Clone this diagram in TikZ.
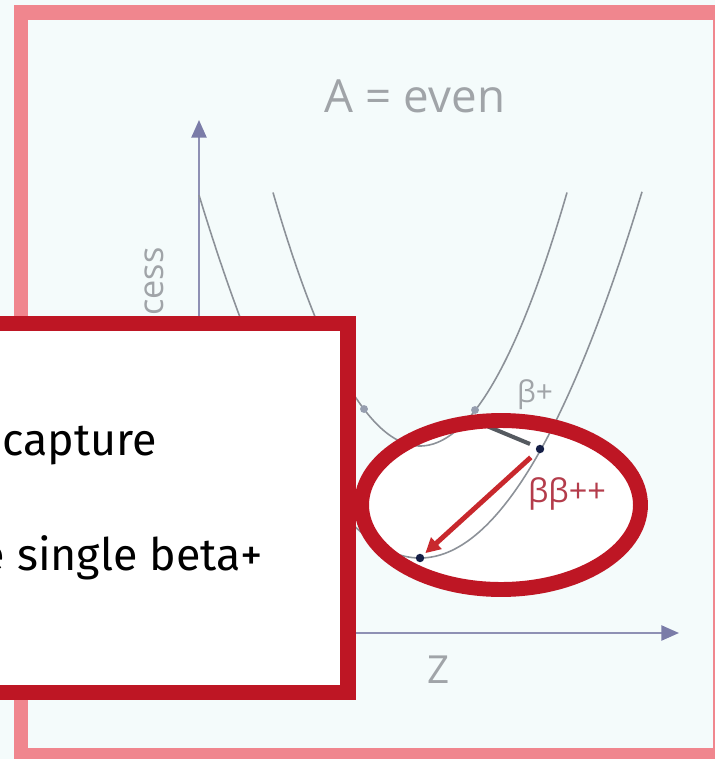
\documentclass[tikz,border=0pt]{standalone}
\usepackage{fontspec}
\newfontfamily\graysf{Open Sans}
\newfontfamily\boxsf{Fira Sans}
\usetikzlibrary{arrows.meta}
\definecolor{bgcol}{RGB}{244,251,251}
\definecolor{framecol}{RGB}{240,134,142}
\definecolor{boxred}{RGB}{190,22,36}
\definecolor{curvecol}{RGB}{140,145,152}
\definecolor{axiscol}{RGB}{142,144,180}
\definecolor{axishead}{RGB}{122,124,168}
\definecolor{labelgray}{RGB}{160,164,168}
\definecolor{dotdark}{RGB}{20,30,70}
\definecolor{dotgray}{RGB}{150,158,175}
\definecolor{arrowred}{RGB}{200,40,45}
\definecolor{bbred}{RGB}{180,60,75}
\definecolor{barcol}{RGB}{85,90,96}
\begin{document}
\begin{tikzpicture}[x=0.02cm,y=-0.02cm,
  axisline/.style={axiscol,line width=1.3pt,-{Triangle[length=10pt,width=8.5pt,color=axishead]}},
  parab/.style={curvecol,line width=0.9pt,smooth,samples=80},
  ddot/.style={circle,fill=dotdark,inner sep=0pt,minimum size=4.8pt},
  gdot/.style={circle,fill=dotgray,inner sep=0pt,minimum size=4.5pt},
  graytxt/.style={labelgray,inner sep=0pt},
  boxtxt/.style={black,inner sep=0pt,font=\boxsf\fontsize{25.5}{30}\selectfont}]
  \clip (0,0) rectangle (715,759);
  % ---------- background and frame ----------
  \fill[bgcol] (0,0) rectangle (715,759);
  \draw[framecol,line width=8pt] (21,12.5) rectangle (720,755.5);
  \node[graytxt,font=\graysf\fontsize{26}{30}\selectfont] (title) at (415,96) {A = even};

  % ---------- axes ----------
  \coordinate (orig) at (199,633);
  \coordinate (ytip) at (199,120);
  \coordinate (xtip) at (679,633);
  \draw[axisline] (orig) -- (ytip);
  \draw[axisline] (orig) -- (xtip);
  \node[graytxt,font=\graysf\fontsize{19.5}{22}\selectfont,rotate=90,anchor=base east] (ylab) at (163,247) {cess};
  \node[graytxt,font=\graysf\fontsize{22}{26}\selectfont] (zlab) at (439,670) {Z};

  % ---------- highlight ellipse (fill) ----------
  \fill[white] (501,505) ellipse [x radius=2.79cm,y radius=1.69cm];

  % ---------- the two mass parabolas ----------
  \draw[parab] plot[domain=273:567] (\x,{446-117.3*((\x-420)/100)*((\x-420)/100)});
  \draw[parab] plot[domain=199:642] (\x,{558-74.3*((\x-420)/100)*((\x-420)/100)});
  \node[gdot] (ooA) at (364,409) {};
  \node[gdot] (ooB) at (475,410) {};
  \node[ddot] (ddA) at (420,558) {};
  \node[ddot] (ddB) at (540,449) {};

  % beta+ step and double beta arrow
  \coordinate (bpA) at (470,419);
  \coordinate (bpB) at (530,444);
  \draw[barcol,line width=2.3pt] (bpA) -- (bpB);
  \draw[arrowred,line width=2.8pt,shorten <=4.5pt,shorten >=1.5pt,
        -{Triangle[length=8.5pt,width=8.5pt]}] (ddB) -- (ddA);
  \node[graytxt,font=\graysf\fontsize{17}{20}\selectfont,anchor=base] (bplab) at (535,402) {β+};
  \node[bbred,inner sep=0pt,font=\graysf\fontsize{18.5}{22}\selectfont,anchor=base] (bblab) at (567,502) {ββ++};

  % ---------- highlight ellipse (ring) ----------
  \draw[boxred,line width=8.5pt] (501,505) ellipse [x radius=2.79cm,y radius=1.69cm];

  % ---------- overlay text box ----------
  \draw[boxred,line width=9pt,fill=white] (-30,323.5) rectangle (348,692.5);
  \node[boxtxt,anchor=base east] (capt) at (157,455) {capture};
  \node[boxtxt,anchor=base east] (sbeta) at (263,570) {e single beta+};
\end{tikzpicture}
\end{document}
